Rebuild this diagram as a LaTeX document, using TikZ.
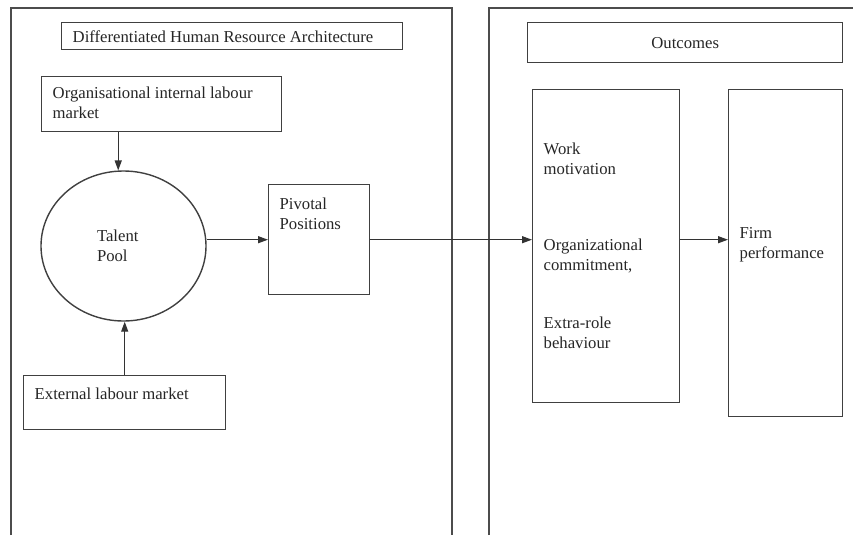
\documentclass[tikz,border=0pt]{standalone}
\usepackage{fontspec}
\setmainfont{Liberation Serif}
\usetikzlibrary{arrows.meta,shapes.geometric}
\newcommand{\boxlines}[4]{\parbox[c][#1][t]{#2}{\raggedright\rule{0pt}{#3}#4}}

\begin{document}
\begin{tikzpicture}[x=1pt,y=-1pt,
  font=\fontsize{16.7}{20}\selectfont,
  panel/.style={draw=black!70, line width=1.6pt},
  box/.style={draw=black!75, line width=1.4pt, anchor=north west, inner xsep=11pt, inner ysep=0pt, text=black!85},
  pool node/.style={ellipse, draw=black!75, line width=1.4pt, minimum width=165pt, minimum height=150pt, inner sep=0pt, text width=53pt, align=left, text=black!85},
  leads/.style={-{Triangle[length=10pt,width=7pt]}, draw=black!80, line width=1.2pt}]

\useasboundingbox (0,0) rectangle (853,535);

\draw[panel] (11,535) |- (452,8) -- (452,535);
\draw[panel] (489,535) |- (853,8);

\node[box] (hra) at (61,22) {\boxlines{27pt}{319pt}{20pt}{Differentiated Human Resource Architecture}};
\node[box] (ilm) at (41,76) {\boxlines{55pt}{218pt}{21.5pt}{Organisational internal labour\\market}};
\node[pool node] (pool) at (123.5,246) {Talent\\Pool};
\node[box] (elm) at (23,375) {\boxlines{54pt}{180pt}{23.3pt}{External labour market}};
\node[box] (piv) at (268,184) {\boxlines{110pt}{79pt}{24.3pt}{Pivotal\\Positions}};

\node[box, minimum width=315pt, minimum height=40pt] (out) at (527,22) {Outcomes};
\node[box] (beh) at (532,89) {\boxlines{313pt}{125pt}{64.3pt}{Work\\motivation\\[56.6pt]Organizational\\commitment,\\[37.7pt]Extra-role\\behaviour}};
\node[box] (firm) at (728,89) {\boxlines{327pt}{92pt}{148.3pt}{Firm\\performance}};

\draw[leads] (pool.94.5 |- ilm.south) -- (pool.94.5);
\draw[leads] (elm.north) -- (elm.north |- pool.south);
\draw[leads] (pool.east |- piv.west) -- (piv.west);
\draw[leads] (piv.east) -- (piv.east -| beh.west);
\draw[leads] (piv.east -| beh.east) -- (piv.east -| firm.west);
\end{tikzpicture}
\end{document}
